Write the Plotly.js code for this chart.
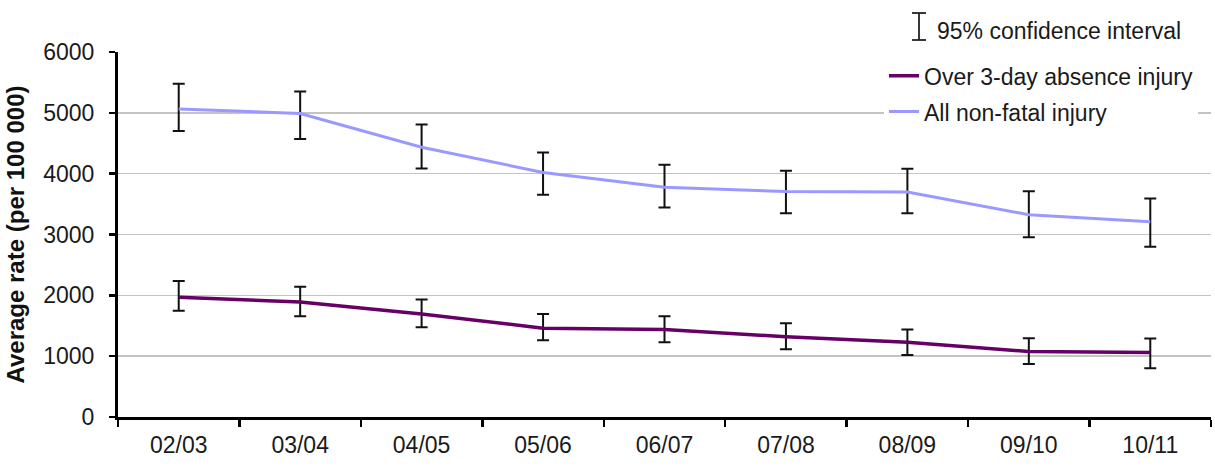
<!DOCTYPE html>
<html>
<head>
<meta charset="utf-8">
<script src="https://cdn.plot.ly/plotly-3.0.1.min.js"></script>
<style>html,body{margin:0;padding:0;background:#fff;}#chart{width:1215px;height:466px;}</style>
</head>
<body>
<div id="chart"></div>
<script>
const categories = ["02/03","03/04","04/05","05/06","06/07","07/08","08/09","09/10","10/11"];
const over3Day = [1970, 1890, 1695, 1460, 1440, 1320, 1230, 1075, 1060];
const over3DayUpper = [2235, 2140, 1930, 1695, 1655, 1540, 1440, 1295, 1290];
const over3DayLower = [1745, 1655, 1475, 1260, 1230, 1115, 1020, 870, 800];
const allNonFatal = [5065, 4990, 4435, 4020, 3775, 3705, 3700, 3325, 3210];
const allNonFatalUpper = [5480, 5350, 4810, 4350, 4145, 4050, 4080, 3710, 3590];
const allNonFatalLower = [4700, 4570, 4085, 3655, 3445, 3350, 3350, 2955, 2800];

const plus = (u, v) => u.map((x, i) => x - v[i]);
const minus = (l, v) => v.map((x, i) => x - l[i]);

const font = "'Liberation Sans', Arial, sans-serif";
const fs = 23;

const traces = [
  {
    type: "scatter", mode: "lines", name: "Over 3-day absence injury",
    x: categories, y: over3Day, legendgroup: "a",
    line: {color: "#660066", width: 3.5},
    error_y: {type: "data", symmetric: false, array: plus(over3DayUpper, over3Day), arrayminus: minus(over3DayLower, over3Day), color: "#111", thickness: 2, width: 6}
  },
  {
    type: "scatter", mode: "lines", name: "All non-fatal injury",
    x: categories, y: allNonFatal, legendgroup: "b",
    line: {color: "#9999ff", width: 3},
    error_y: {type: "data", symmetric: false, array: plus(allNonFatalUpper, allNonFatal), arrayminus: minus(allNonFatalLower, allNonFatal), color: "#111", thickness: 2, width: 6}
  }
];

const layout = {
  width: 1215, height: 466,
  margin: {l: 118, r: 4, t: 52, b: 49},
  paper_bgcolor: "#fff", plot_bgcolor: "#fff",
  font: {family: font, size: fs, color: "#1a1a1a"},
  showlegend: true,
  legend: {x: (884-118)/1093, xanchor: "left", y: 0.994, yanchor: "top", bgcolor: "#fff", borderwidth: 0,
           font: {family: font, size: fs, color: "#1a1a1a"}, tracegroupgap: 3, traceorder: "grouped"},
  xaxis: {
    type: "category", range: [-0.5, 8.5], tickson: "boundaries",
    showline: true, linecolor: "#000", linewidth: 3,
    ticks: "outside", ticklen: 7, tickwidth: 2.5, tickcolor: "#000",
    showgrid: false, zeroline: false, ticklabelstandoff: 5,
    tickfont: {family: font, size: fs, color: "#1a1a1a"}
  },
  yaxis: {
    range: [0, 6000], dtick: 1000, tick0: 0,
    showline: true, linecolor: "#000", linewidth: 3,
    ticks: "outside", ticklen: 6, tickwidth: 2.5, tickcolor: "#000",
    showgrid: true, gridcolor: "#c4c4c4", gridwidth: 1.5, zeroline: false,
    ticklabelstandoff: 10,
    tickfont: {family: font, size: fs, color: "#1a1a1a"},
    title: {text: "<b>Average rate (per 100 000)</b>", font: {family: font, size: 24, color: "#111"}, standoff: 12}
  },
  shapes: [
    {type: "line", xref: "paper", yref: "paper", x0: (919-118)/1093, x1: (919-118)/1093, y0: (417-13)/365, y1: (417-40)/365, line: {color: "#222", width: 1.8}},
    {type: "line", xref: "paper", yref: "paper", x0: (912-118)/1093, x1: (926-118)/1093, y0: (417-13)/365, y1: (417-13)/365, line: {color: "#222", width: 1.8}},
    {type: "line", xref: "paper", yref: "paper", x0: (912-118)/1093, x1: (926-118)/1093, y0: (417-40)/365, y1: (417-40)/365, line: {color: "#222", width: 1.8}}
  ],
  annotations: [
    {xref: "paper", yref: "paper", x: (935-118)/1093, y: (417-31)/365, xanchor: "left", yanchor: "middle",
     text: "95% confidence interval", showarrow: false, font: {family: font, size: fs, color: "#1a1a1a"}}
  ]
};

Plotly.newPlot("chart", traces, layout, {displayModeBar: false, staticPlot: true});
</script>
</body>
</html>
